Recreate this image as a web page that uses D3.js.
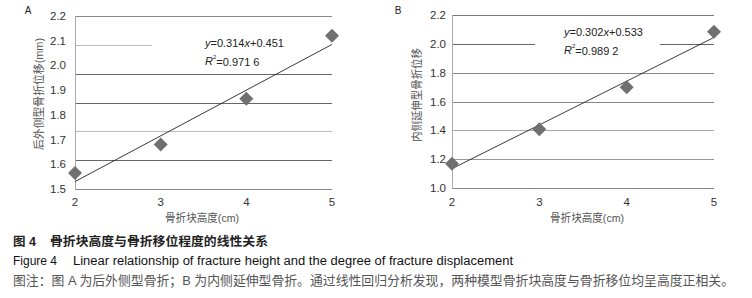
<!DOCTYPE html>
<html><head><meta charset="utf-8">
<script src="https://cdn.jsdelivr.net/npm/d3@7"></script>
<style>
html,body{margin:0;padding:0;background:#fff;}
svg{display:block;}
text{font-family:"Liberation Sans","Noto Sans CJK SC",Arial,sans-serif;}
</style></head>
<body>
<script>
// ---- data ----
const xCategories = [2, 3, 4, 5];
const seriesA = [1.565, 1.68, 1.865, 2.12];   // 后外侧型
const seriesB = [1.168, 1.408, 1.698, 2.083]; // 内侧延伸型
const xTickLabels = ["2", "3", "4", "5"];
const yTicksA = [1.5, 1.6, 1.7, 1.8, 1.9, 2.0, 2.1, 2.2];
const yTicksB = [1.0, 1.2, 1.4, 1.6, 1.8, 2.0, 2.2];
const eqA = {slope: "0.314", intercept: "0.451", r2: "0.971 6"};
const eqB = {slope: "0.302", intercept: "0.533", r2: "0.989 2"};
const yTitleA = "后外侧型骨折位移(mm)";
const yTitleB = "内侧延伸型骨折位移";
const xTitle = "骨折块高度(cm)";
const captionCN = "骨折块高度与骨折移位程度的线性关系";
const captionEN = "Linear relationship of fracture height and the degree of fracture displacement";
const captionNote = "图注：图 A 为后外侧型骨折；B 为内侧延伸型骨折。通过线性回归分析发现，两种模型骨折块高度与骨折移位均呈高度正相关。";

const W = 752, H = 298;
const svg = d3.select("body").append("svg").attr("width", W).attr("height", H);

function fit(xs, ys) {
  const mx = d3.mean(xs), my = d3.mean(ys);
  let num = 0, den = 0;
  xs.forEach((x, i) => { num += (x - mx) * (ys[i] - my); den += (x - mx) * (x - mx); });
  const b = num / den;
  return {b, a: my - b * mx};
}

function panel(cfg) {
  const g = svg.append("g");
  const x = d3.scaleLinear().domain([2, 5]).range([cfg.left, cfg.right]);
  const y = d3.scaleLinear().domain([cfg.yTicks[0], cfg.yTicks[cfg.yTicks.length - 1]]).range([cfg.bottom, cfg.top]);
  const grid = d3.scaleLinear().domain([0, 6]).range([cfg.bottom, cfg.top]);

  d3.range(7).forEach(i => {
    g.append("line")
      .attr("x1", cfg.left).attr("x2", cfg.right)
      .attr("y1", Math.round(grid(6 - i)) + 0.5).attr("y2", Math.round(grid(6 - i)) + 0.5)
      .attr("stroke", cfg.gridShades[i]).attr("stroke-width", 1);
  });
  g.append("line").attr("x1", cfg.left + 0.5).attr("x2", cfg.left + 0.5)
    .attr("y1", cfg.top).attr("y2", cfg.bottom + 1).attr("stroke", "#aaa");

  g.append("rect").attr("x", cfg.box[0]).attr("y", cfg.box[1])
    .attr("width", cfg.box[2]).attr("height", cfg.box[3]).attr("fill", "#fff");

  g.selectAll(".yt").data(cfg.yTicks).enter().append("text")
    .attr("x", cfg.left - cfg.yLabGap).attr("y", d => y(d)).attr("dy", "0.35em")
    .attr("text-anchor", "end").attr("font-size", 11.5).attr("fill", "#333")
    .text(d => d.toFixed(1));
  g.selectAll(".xt").data(xCategories).enter().append("text")
    .attr("x", d => x(d)).attr("y", 202).attr("dy", "0.35em")
    .attr("text-anchor", "middle").attr("font-size", 11.5).attr("fill", "#333")
    .text((d, i) => xTickLabels[i]);

  const f = fit(xCategories, cfg.values);
  g.append("line")
    .attr("x1", x(2)).attr("y1", y(f.a + f.b * 2))
    .attr("x2", x(5)).attr("y2", y(f.a + f.b * 5))
    .attr("stroke", "#222").attr("stroke-width", 0.9);

  g.selectAll(".pt").data(cfg.values).enter().append("path")
    .attr("transform", (d, i) => `translate(${x(xCategories[i])},${y(d)})`)
    .attr("d", "M0,-7L7,0L0,7L-7,0Z").attr("fill", "#707070");

  const e1 = g.append("text").attr("x", cfg.eqX).attr("y", cfg.eqY).attr("dy", "0.35em")
    .attr("font-size", 11).attr("fill", "#222");
  e1.append("tspan").attr("font-style", "italic").text("y");
  e1.append("tspan").text("=" + cfg.eq.slope);
  e1.append("tspan").attr("font-style", "italic").text("x");
  e1.append("tspan").text("+" + cfg.eq.intercept);
  const e2 = g.append("text").attr("x", cfg.eqX).attr("y", cfg.eqY + 18).attr("dy", "0.35em")
    .attr("font-size", 11).attr("fill", "#222");
  e2.append("tspan").attr("font-style", "italic").text("R");
  e2.append("tspan").attr("font-size", 6).attr("dy", "-0.9em").text("2");
  e2.append("tspan").attr("dy", "0.55em").text("=" + cfg.eq.r2);

  g.append("text").attr("x", cfg.letterX).attr("y", 10).attr("dy", "0.35em")
    .attr("text-anchor", "middle").attr("font-size", 10).attr("fill", "#222").text(cfg.letter);

  g.append("text").attr("x", cfg.xTitleX).attr("y", 218).attr("dy", "0.35em")
    .attr("text-anchor", "middle").attr("font-size", 11).attr("fill", "#555")
    .attr("textLength", 74).attr("lengthAdjust", "spacingAndGlyphs").text(xTitle);
  g.append("text").attr("transform", `translate(${cfg.yTitleX},${cfg.yTitleY}) rotate(-90)`)
    .attr("dy", "0.35em").attr("text-anchor", "middle").attr("font-size", 11.5)
    .attr("fill", "#555").attr("textLength", cfg.yTitleLen).attr("lengthAdjust", "spacingAndGlyphs")
    .text(cfg.yTitle);
}

panel({
  left: 75, right: 332, top: 16, bottom: 189,
  values: seriesA, yTicks: yTicksA, yLabGap: 9,
  gridShades: ["#888", "#bbb", "#666", "#666", "#bbb", "#666", "#888"],
  box: [152, 30, 182, 36],
  eq: eqA, eqX: 205, eqY: 43,
  letter: "A", letterX: 28,
  xTitleX: 202, yTitle: yTitleA, yTitleX: 39, yTitleY: 94, yTitleLen: 112
});
panel({
  left: 452, right: 714, top: 15, bottom: 188,
  values: seriesB, yTicks: yTicksB, yLabGap: 6,
  gridShades: ["#777", "#666", "#888", "#888", "#aaa", "#999", "#888"],
  box: [535, 24, 125, 36],
  eq: eqB, eqX: 564, eqY: 32,
  letter: "B", letterX: 398,
  xTitleX: 587, yTitle: yTitleB, yTitleX: 417, yTitleY: 95, yTitleLen: 94
});

svg.append("text").attr("x", 13).attr("y", 242).attr("dy", "0.35em")
  .attr("font-size", 12.5).attr("font-weight", "bold").attr("fill", "#222").text("图 4");
svg.append("text").attr("x", 50).attr("y", 242).attr("dy", "0.35em")
  .attr("font-size", 12.5).attr("font-weight", "bold").attr("fill", "#222")
  .attr("textLength", 218).attr("lengthAdjust", "spacingAndGlyphs").text(captionCN);
svg.append("text").attr("x", 13).attr("y", 261).attr("dy", "0.35em")
  .attr("font-size", 12).attr("fill", "#111").text("Figure 4");
svg.append("text").attr("x", 73).attr("y", 261).attr("dy", "0.35em")
  .attr("font-size", 12).attr("fill", "#111")
  .attr("textLength", 440).attr("lengthAdjust", "spacingAndGlyphs").text(captionEN);
svg.append("text").attr("x", 13).attr("y", 280).attr("dy", "0.35em")
  .attr("font-size", 13).attr("fill", "#555")
  .attr("textLength", 721).attr("lengthAdjust", "spacingAndGlyphs").text(captionNote);
</script>
</body></html>
